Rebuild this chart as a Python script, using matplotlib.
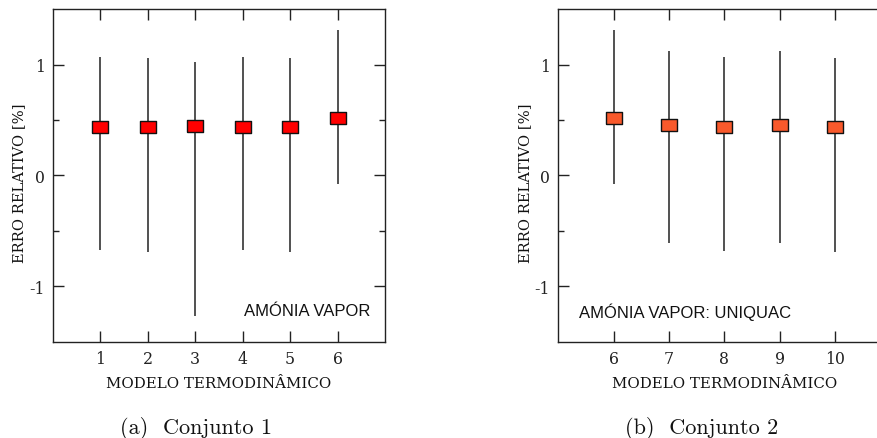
import matplotlib
matplotlib.use("Agg")
import matplotlib.pyplot as plt
import numpy as np

plt.rcParams["axes.unicode_minus"] = False

# Conjunto 1: modelos 1-6
models_1 = [1, 2, 3, 4, 5, 6]
mean_1 = [0.437, 0.437, 0.443, 0.437, 0.437, 0.518]
upper_1 = [1.066, 1.06, 1.024, 1.066, 1.06, 1.31]
lower_1 = [-0.671, -0.692, -1.27, -0.67, -0.69, -0.08]

# Conjunto 2: modelos 6-10 (UNIQUAC)
models_2 = [6, 7, 8, 9, 10]
mean_2 = [0.518, 0.452, 0.437, 0.452, 0.437]
upper_2 = [1.31, 1.12, 1.07, 1.12, 1.06]
lower_2 = [-0.08, -0.61, -0.68, -0.61, -0.69]

y_ticks = [-1, 0, 1]
y_minor = [-0.5, 0.5]

serif = ["DejaVu Serif"]
sans = ["Liberation Sans", "DejaVu Sans"]

fig = plt.figure(figsize=(8.77, 4.39), dpi=100)

rect_marker = [(-1, -0.68), (1, -0.68), (1, 0.68), (-1, 0.68), (-1, -0.68)]


def panel(ax, x, mean, lo, hi, color, xlim, note, note_x, note_ha, caption, cap_x):
    x = np.asarray(x)
    mean = np.asarray(mean)
    ax.vlines(x, lo, hi, color="#222222", lw=1.1, zorder=2)
    ax.plot(x, mean, ls="none", marker=rect_marker, ms=11.8,
            mfc=color, mec="#111111", mew=1.0, zorder=3)
    ax.set_xlim(*xlim)
    ax.set_ylim(-1.5, 1.5)
    ax.set_xticks(x)
    ax.set_xticklabels([str(v) for v in x], fontfamily=serif, fontsize=11.3)
    ax.set_yticks(y_ticks)
    ax.set_yticklabels([str(v) for v in y_ticks], fontfamily=serif, fontsize=11.3)
    ax.set_yticks(y_minor, minor=True)
    ax.tick_params(which="major", direction="in", length=8, width=1,
                   top=True, right=True, pad=6, colors="#222222")
    ax.tick_params(which="minor", direction="in", length=4, width=1,
                   left=True, right=True, colors="#222222")
    for s in ax.spines.values():
        s.set_linewidth(1.0)
        s.set_color("#222222")
    ax.set_xlabel("MODELO TERMODINÂMICO", fontfamily=serif, fontsize=10.8,
                  labelpad=6, color="#111111")
    ax.set_ylabel("ERRO RELATIVO [%]", fontfamily=serif, fontsize=10.6,
                  color="#111111")
    ax.yaxis.set_label_coords(-0.08, 0.48)
    ax.text(note_x, -1.22, note, ha=note_ha, va="center", fontsize=12,
            family=sans, color="#111111")
    fig.text(cap_x, 0.025, caption, ha="center", va="center",
             fontfamily="cmr10", fontsize=16, color="#111111")


ax1 = fig.add_axes([0.0604, 0.2187, 0.3786, 0.7585])
ax2 = fig.add_axes([0.6366, 0.2187, 0.3786, 0.7585])

panel(ax1, models_1, mean_1, lower_1, upper_1, "#FF0000", (0, 7),
      "AMÓNIA VAPOR", 6.69, "right", "(a)  Conjunto 1", 0.2235)
panel(ax2, models_2, mean_2, lower_2, upper_2, "#F9592B", (5, 11),
      "AMÓNIA VAPOR: UNIQUAC", 5.37, "left", "(b)  Conjunto 2", 0.80)

fig.savefig("out.png", dpi=100)
